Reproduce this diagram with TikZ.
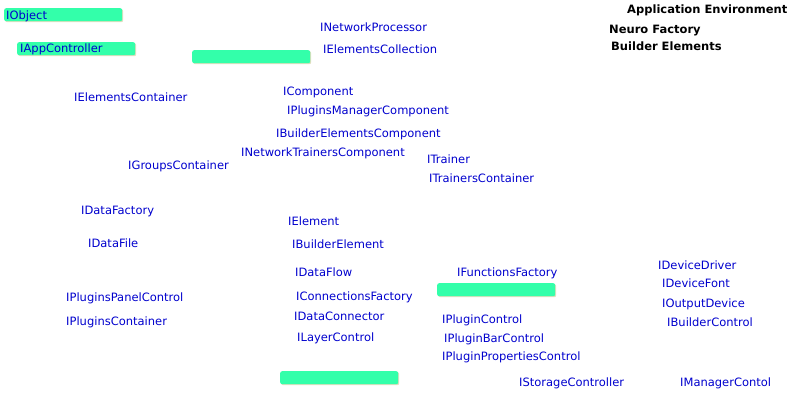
\documentclass[tikz,border=0pt]{standalone}
\usepackage{fontspec}
\setmainfont{DejaVu Sans}
\usetikzlibrary{shadows}
\definecolor{ifc}{RGB}{0,0,205}
\definecolor{boxfill}{RGB}{51,255,170}
\definecolor{shadowc}{RGB}{222,222,190}
\tikzset{
  iface/.style={anchor=base west, yshift=-4pt, inner sep=0pt, text=ifc, font=\fontsize{11.5}{13}\selectfont},
  title/.style={anchor=base west, yshift=-4pt, inner sep=0pt, text=black, font=\fontsize{11.5}{13}\selectfont\bfseries},
  gbox/.style={anchor=north west, fill=boxfill, rounded corners=2pt, minimum width=118pt, minimum height=13pt,
    inner sep=0pt, general shadow={fill=shadowc, shadow xshift=1pt, shadow yshift=-1pt}},
}
\begin{document}
\begin{tikzpicture}[x=1pt,y=-1pt]
\useasboundingbox (0,0) rectangle (793,400);
% green boxes
\node[gbox] (bobject) at (4,8) {};
\node[gbox] (bapp) at (17,42) {};
\node[gbox] (bempty1) at (192,50) {};
\node[gbox] (bempty2) at (437,283) {};
\node[gbox] (bempty3) at (280,371) {};
\node[iface] (IObject) at (6,15) {IObject};
\node[iface] (IAppController) at (20,48.5) {IAppController};
% titles
\node[title] (appenv) at (627,9) {Application Environment};
\node[title] (neuro) at (609,29) {Neuro Factory};
\node[title] (builder) at (611,46) {Builder Elements};
% interfaces
\node[iface] (INetworkProcessor) at (320,27) {INetworkProcessor};
\node[iface] (IElementsCollection) at (323,49) {IElementsCollection};
\node[iface] (IElementsContainer) at (74,97) {IElementsContainer};
\node[iface] (IComponent) at (283,91) {IComponent};
\node[iface] (IPluginsManagerComponent) at (287,110) {IPluginsManagerComponent};
\node[iface] (IBuilderElementsComponent) at (276,133) {IBuilderElementsComponent};
\node[iface] (INetworkTrainersComponent) at (241,152) {INetworkTrainersComponent};
\node[iface] (IGroupsContainer) at (128,165) {IGroupsContainer};
\node[iface] (ITrainer) at (427,159) {ITrainer};
\node[iface] (ITrainersContainer) at (429,178) {ITrainersContainer};
\node[iface] (IDataFactory) at (81,210) {IDataFactory};
\node[iface] (IDataFile) at (88,243) {IDataFile};
\node[iface] (IPluginsPanelControl) at (66,297) {IPluginsPanelControl};
\node[iface] (IPluginsContainer) at (66,321) {IPluginsContainer};
\node[iface] (IElement) at (288,221) {IElement};
\node[iface] (IBuilderElement) at (292,244) {IBuilderElement};
\node[iface] (IDataFlow) at (295,272) {IDataFlow};
\node[iface] (IConnectionsFactory) at (296,296) {IConnectionsFactory};
\node[iface] (IDataConnector) at (294,316) {IDataConnector};
\node[iface] (ILayerControl) at (297,337) {ILayerControl};
\node[iface] (IFunctionsFactory) at (457,272) {IFunctionsFactory};
\node[iface] (IPluginControl) at (442,319) {IPluginControl};
\node[iface] (IPluginBarControl) at (444,338) {IPluginBarControl};
\node[iface] (IPluginPropertiesControl) at (442,356) {IPluginPropertiesControl};
\node[iface] (IDeviceDriver) at (658,265) {IDeviceDriver};
\node[iface] (IDeviceFont) at (662,283) {IDeviceFont};
\node[iface] (IOutputDevice) at (662,303) {IOutputDevice};
\node[iface] (IBuilderControl) at (667,322) {IBuilderControl};
\node[iface] (IStorageController) at (519,382) {IStorageController};
\node[iface] (IManagerContol) at (680,382) {IManagerContol};
\end{tikzpicture}
\end{document}
